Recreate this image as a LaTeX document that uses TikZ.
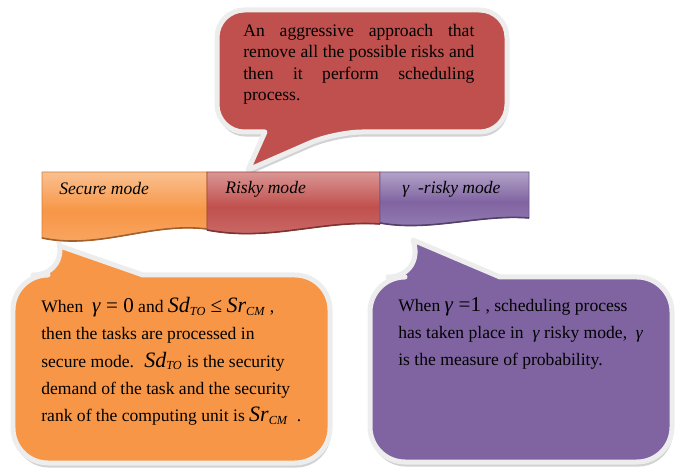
\documentclass[tikz,border=0pt]{standalone}
\usepackage{fontspec}
\setmainfont{Liberation Serif}
\definecolor{secorange}{RGB}{247,150,70}
\definecolor{riskred}{RGB}{192,80,77}
\definecolor{gampurple}{RGB}{128,100,162}
\usetikzlibrary{shadows}
\newcommand{\gam}{\textit{γ}}
\newcommand{\bigit}[1]{{\fontsize{12.5}{12}\selectfont\itshape #1}}
\newcommand{\subit}[1]{\textsubscript{\itshape #1}}

\begin{document}
\begin{tikzpicture}[x=0.02cm, y=-0.02cm,
  bubble/.style={draw=black!7, line width=0.1cm, line join=round,
    drop shadow={shadow xshift=0.6pt, shadow yshift=-2.6pt, fill=black!35}},
  modebar/.style={draw=#1!85!black, line width=0.5pt, top color=#1!60!white,
    bottom color=#1!82!white, middle color=#1},
  modeedge/.style={draw=#1!65!black, line width=0.9pt},
  modetext/.style={font=\fontsize{10}{12}\selectfont\itshape, anchor=base west, inner sep=0pt},
  note/.style={anchor=north west, inner sep=0pt, align=left, font=\fontsize{10}{15.5}\selectfont},
]
  \useasboundingbox (0,0) rectangle (675,475);

  \coordinate (aggrtip) at (248,170);
  \coordinate (sectip) at (60,246);
  \coordinate (gamtip) at (413,240);

  \draw[bubble, fill=riskred] (aggrtip) -- (265,132) [rounded corners=0.55cm] -- (217,132) -- (217,10)
    -- (507,10) -- (507,132) -- (335,132) [sharp corners] -- cycle;
  \draw[bubble, fill=secorange] (sectip) -- (143,275) [rounded corners=0.7cm] -- (330,275) -- (330,463)
    -- (13,463) -- (13,275) -- (68,275) [sharp corners] -- cycle;
  \draw[bubble, fill=gampurple] (gamtip) -- (500,277) [rounded corners=0.7cm] -- (672,277) -- (672,462)
    -- (370,462) -- (370,277) -- (423,277) [sharp corners] -- cycle;

  \draw[modebar=secorange] (42,172) -- (207,172) -- (207,229) .. controls (150,222) and (100,250) .. (42,238) -- cycle;
  \draw[modebar=riskred] (207,172) -- (380,172) -- (380,224) .. controls (320,220) and (270,242) .. (207,230) -- cycle;
  \draw[modebar=gampurple] (380,172) -- (529,172) -- (529,218) .. controls (480,214) and (430,232) .. (380,223) -- cycle;
  \draw[modeedge=secorange] (207,229) .. controls (150,222) and (100,250) .. (42,238);
  \draw[modeedge=riskred] (380,224) .. controls (320,220) and (270,242) .. (207,230);
  \draw[modeedge=gampurple] (529,218) .. controls (480,214) and (430,232) .. (380,223);

  \node[modetext] (secure) at (59,195) {Secure mode};
  \node[modetext] (risky) at (225,194) {Risky mode};
  \node[modetext] (gamrisky) at (402,194) {\gam\ \ -risky mode};

  \node[note, text width=131.5pt, align=justify, font=\fontsize{10}{12.1}\selectfont] (aggrnote) at (243,24)
    {An aggressive approach that\linebreak remove all the possible risks and\linebreak then it perform scheduling\linebreak process.};
  \node[note] (secnote) at (41,297)
    {When \ {\large\gam\ = 0}\ and \bigit{Sd}\subit{TO} {\large ≤} \bigit{Sr}\subit{CM} ,\\
     then the tasks are processed in\\
     secure mode. \ \bigit{Sd}\subit{TO} is the security\\
     demand of the task and the security\\
     rank of the computing unit is \bigit{Sr}\subit{CM} \ .};
  \node[note] (gamnote) at (398,297)
    {When {\large\gam\ =1} , scheduling process\\
     has taken place in \ \gam\ risky mode, \ \gam\\
     is the measure of probability.};
\end{tikzpicture}
\end{document}
